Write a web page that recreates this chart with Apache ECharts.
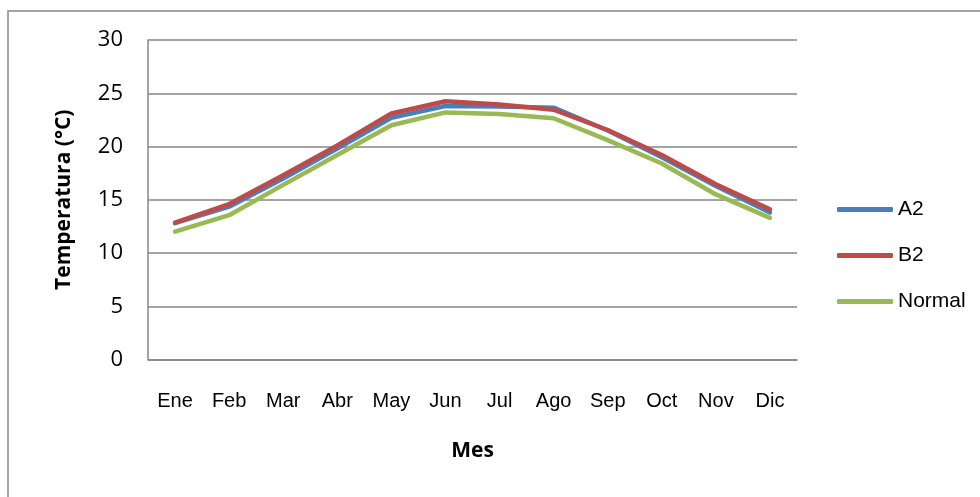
<!DOCTYPE html>
<html>
<head>
<meta charset="utf-8">
<script src="https://cdn.jsdelivr.net/npm/echarts@6/dist/echarts.min.js"></script>
<style>
html,body{margin:0;padding:0;background:#fff;}
#chart{width:980px;height:497px;}
</style>
</head>
<body>
<div id="chart"></div>
<script>
// meses
const meses = ['Ene','Feb','Mar','Abr','May','Jun','Jul','Ago','Sep','Oct','Nov','Dic']
// temperaturas por escenario
const a2 = [12.8,14.35,17.0,19.8,22.7,23.8,23.75,23.65,21.5,19.0,16.3,13.8]
const b2 = [12.85,14.6,17.3,20.1,23.1,24.25,23.95,23.45,21.55,19.2,16.45,14.1]
const normal = [12.0,13.55,16.4,19.2,22.0,23.2,23.05,22.65,20.6,18.4,15.5,13.3]
const yTicks = [0,5,10,15,20,25,30]

const gris = '#868686'
const chart = echarts.init(document.getElementById('chart'))

function serie(nombre, datos, color){
	return {
		type:'line',
		name:nombre,
		data:datos,
		symbol:'none',
		lineStyle:{color:color, width:4.5, cap:'round', join:'round'},
		itemStyle:{color:color},
		animation:false
	}
}

chart.setOption({
	animation:false,
	graphic:[{
		type:'rect',
		left:5.5, top:8.5,
		shape:{x:0, y:0, width:1000, height:600},
		style:{fill:'none', stroke:gris, lineWidth:1.5},
		silent:true
	}],
	grid:{left:148, right:183, top:40, bottom:137.5},
	legend:{
		orient:'vertical',
		left:837, top:199,
		padding:0,
		itemWidth:56, itemHeight:5,
		itemGap:25,
		icon:'roundRect',
		textStyle:{fontFamily:'Liberation Sans', fontSize:21, color:'#000'},
		data:['A2','B2','Normal']
	},
	xAxis:{
		type:'category',
		data:meses,
		name:'Mes',
		nameLocation:'middle',
		nameGap:81,
		nameTextStyle:{fontFamily:'Open Sans', fontWeight:'bold', fontSize:21, color:'#000'},
		axisLine:{lineStyle:{color:gris, width:1.5}},
		axisTick:{show:false},
		axisLabel:{fontFamily:'Liberation Sans', fontSize:20, color:'#000', margin:32, interval:0}
	},
	yAxis:{
		type:'value',
		min:yTicks[0], max:yTicks[yTicks.length-1], interval:5,
		name:'Temperatura (°C)',
		nameLocation:'middle',
		nameGap:73,
		nameTextStyle:{fontFamily:'Open Sans', fontWeight:'bold', fontSize:21, color:'#000'},
		axisLine:{show:true, lineStyle:{color:gris, width:1.5}},
		axisTick:{show:false},
		splitLine:{lineStyle:{color:gris, width:1.5}},
		axisLabel:{fontFamily:'Open Sans', fontSize:22, color:'#000', margin:25}
	},
	series:[
		serie('A2', a2, '#4A7EBB'),
		serie('B2', b2, '#BE4B48'),
		serie('Normal', normal, '#98B954')
	]
})
</script>
</body>
</html>
